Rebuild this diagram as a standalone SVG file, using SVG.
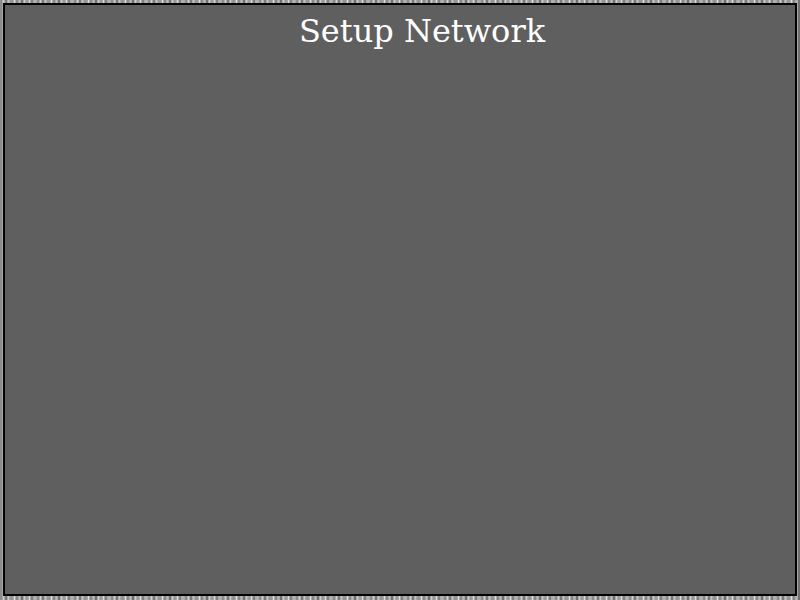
<svg xmlns="http://www.w3.org/2000/svg" width="800" height="600" viewBox="0 0 800 600">
<defs>
<style>
.title{font-family:"DejaVu Serif",serif;font-size:32px;fill:#ffffff;text-anchor:middle}
</style>
<pattern id="stripes" x="0" y="0" width="37" height="600" patternUnits="userSpaceOnUse">
<rect x="0" y="0" width="37" height="600" fill="#a8a8a8"/>
<rect x="0" y="0" width="2" height="600" fill="#8c8c8c"/>
<rect x="3" y="0" width="1" height="600" fill="#d0d0d0"/>
<rect x="5" y="0" width="2" height="600" fill="#7a7a7a"/>
<rect x="8" y="0" width="1" height="600" fill="#c4c4c4"/>
<rect x="10" y="0" width="3" height="600" fill="#959595"/>
<rect x="14" y="0" width="1" height="600" fill="#e0e0e0"/>
<rect x="16" y="0" width="2" height="600" fill="#888888"/>
<rect x="19" y="0" width="1" height="600" fill="#b8b8b8"/>
<rect x="21" y="0" width="2" height="600" fill="#707070"/>
<rect x="24" y="0" width="1" height="600" fill="#cccccc"/>
<rect x="26" y="0" width="2" height="600" fill="#9a9a9a"/>
<rect x="29" y="0" width="1" height="600" fill="#dadada"/>
<rect x="31" y="0" width="2" height="600" fill="#808080"/>
<rect x="34" y="0" width="2" height="600" fill="#b0b0b0"/>
</pattern>
</defs>
<rect x="0" y="0" width="800" height="600" fill="url(#stripes)"/>
<g id="panel">
<rect x="4" y="4" width="792" height="591" fill="#5f5f5f" stroke="#000000" stroke-width="2"/>
<text class="title" x="422" y="42">Setup Network</text>
</g>
<g id="connectors"/>
</svg>
